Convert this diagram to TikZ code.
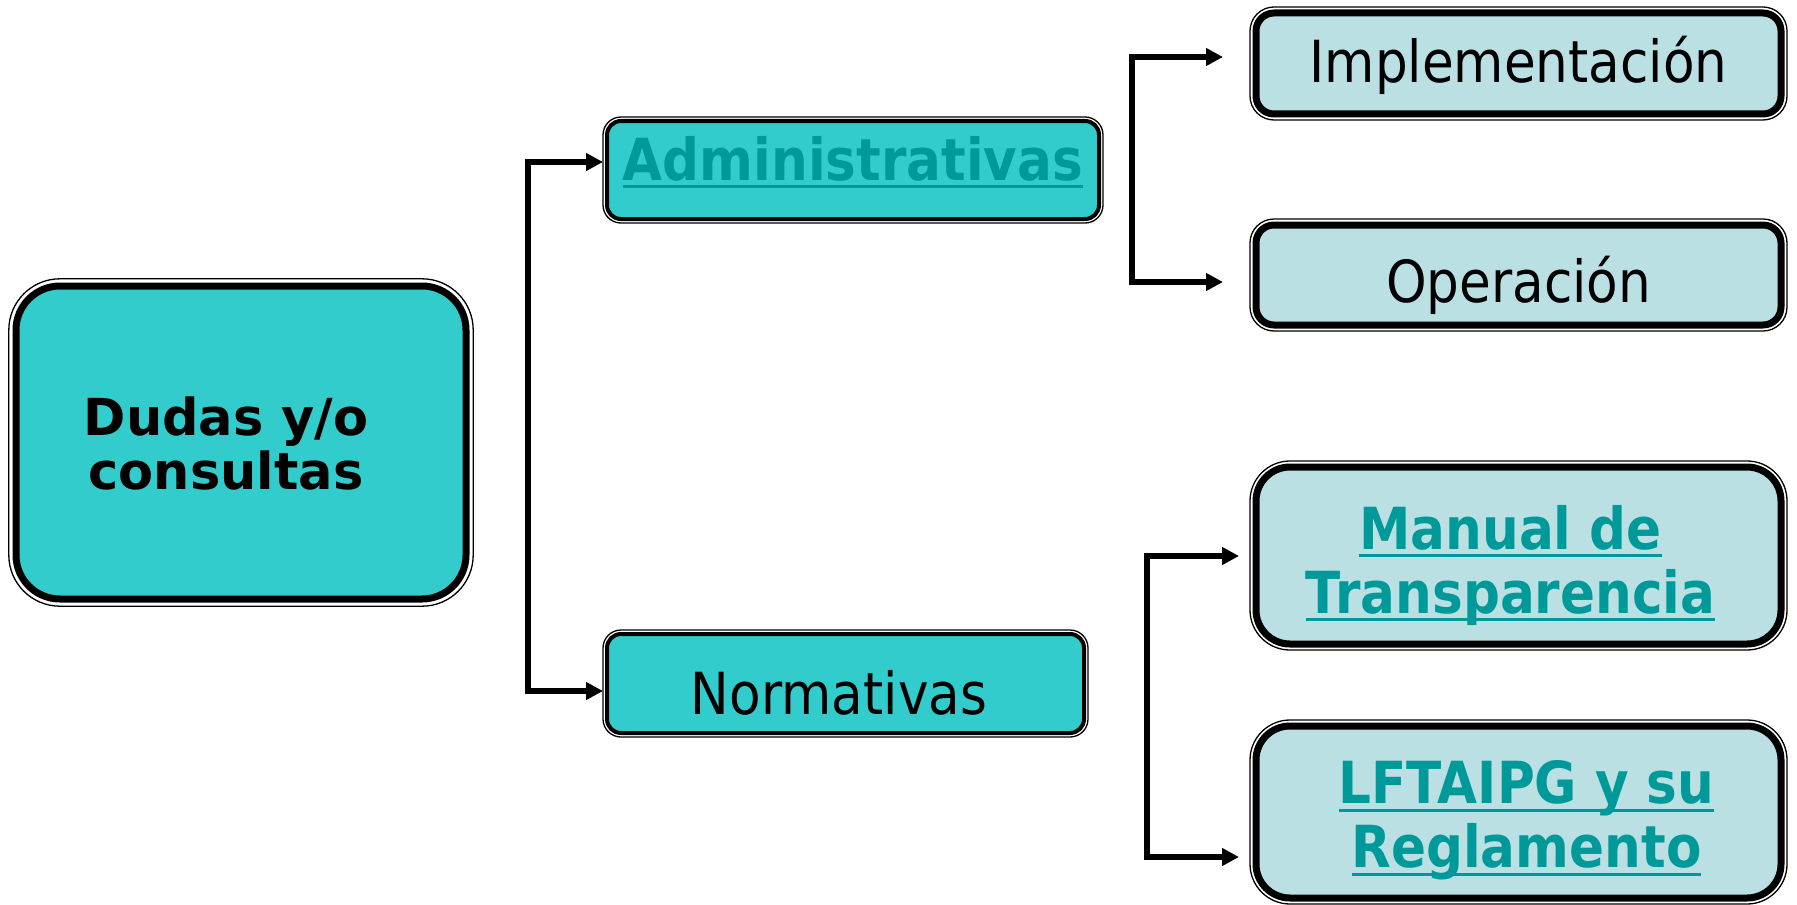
\documentclass[tikz,border=0pt]{standalone}
\usepackage{fontspec}
\setmainfont{DejaVu Sans}
\newfontfamily\narrowsans[FakeStretch=0.89]{DejaVu Sans}
\usepackage{xcolor}
\usetikzlibrary{arrows.meta}
\usetikzlibrary{calc}
\definecolor{boxdark}{HTML}{33CCCC}
\definecolor{boxlight}{HTML}{BAE0E3}
\definecolor{linkteal}{HTML}{009999}
\newcommand{\linkline}[1]{\setbox0\hbox{#1}\rlap{\vrule height -2.5pt depth 4.2pt width \wd0}\box0}

\begin{document}
\begin{tikzpicture}[
			     x=0.5pt, y=-0.5pt,
			     >={Triangle[length=8.5pt,width=8.5pt]},
			     box/.style={draw=black, rectangle, inner sep=0pt, outer sep=0pt, align=center},
			     bigbox/.style={box, fill=boxdark, line width=3.5pt, rounded corners=22pt},
			     midbox/.style={box, fill=boxdark, line width=2pt, rounded corners=7pt},
			     sidebox/.style={box, fill=boxlight, line width=3.5pt, rounded corners=9pt},
			     tallbox/.style={sidebox, rounded corners=17pt},
			     lift/.style={text height=#1, text depth=0pt},
			     linktext/.style={text=linkteal, font=\narrowsans\bfseries\fontsize{29}{32}\selectfont},
			     plaintext/.style={text=black, font=\narrowsans\fontsize{29}{32}\selectfont},
			     frame/.style={draw=black, line width=0.65pt},
			     conn/.style={<->, draw=black, line width=2.8pt}
			     ]
\useasboundingbox (0,0) rectangle (1797,904);

\node[bigbox, lift=46.5pt, minimum width=225pt, minimum height=156.5pt,
      font=\bfseries\fontsize{25.5}{27}\selectfont] (dudas) at (241,442.5) {Dudas y/o\hspace*{15pt}\\consultas\hspace*{15pt}};

\node[midbox, linktext, lift=10pt, minimum width=246pt, minimum height=49pt] (admin) at (853,170) {\linkline{Administrativas}};
\node[midbox, plaintext, lift=30.5pt, minimum width=238.5pt, minimum height=49.5pt] (norm) at (845.5,683.5) {Normativas\hspace*{6.5pt}};

\node[sidebox, plaintext, lift=19pt, minimum width=262.5pt, minimum height=50.5pt] (impl) at (1518.5,63.5) {Implementación};
\node[sidebox, plaintext, lift=27.5pt, minimum width=262.5pt, minimum height=50pt] (oper) at (1518.5,275) {Operación};
\node[tallbox, linktext, lift=57.5pt, minimum width=262.5pt, minimum height=88.5pt] (manual) at (1518.5,555.5) {\linkline{Manual de}\hspace*{8pt}\\\linkline{Transparencia}\hspace*{8pt}};
\node[tallbox, linktext, lift=55.5pt, minimum width=262.5pt, minimum height=86pt] (lft) at (1518.5,812) {\hspace*{8pt}\linkline{LFTAIPG y su}\\\hspace*{8pt}\linkline{Reglamento}};

% thin outer lines
\foreach \n/\o/\r in {dudas/3.6pt/25.6pt, admin/2pt/9pt, norm/2pt/9pt, impl/3pt/12pt,
                      oper/3pt/12pt, manual/3pt/20pt, lft/3pt/20pt}
  \draw[frame, rounded corners=\r] ($(\n.north west)+(-\o,\o)$) rectangle ($(\n.south east)+(\o,-\o)$);

\coordinate (a1) at (528,162);
\coordinate (a2) at (528,691);
\coordinate (b1) at (1132,57);
\coordinate (b2) at (1132,282);
\coordinate (c1) at (1147,556);
\coordinate (c2) at (1147,857);

\draw[conn, shorten <=2pt, shorten >=2pt] (a1 -| admin.west) -- (a1) -- (a2) -- (a2 -| norm.west);
\draw[conn, shorten <=16.5pt, shorten >=16.5pt] (b1 -| impl.west) -- (b1) -- (b2) -- (b2 -| oper.west);
\draw[conn, shorten <=8.5pt, shorten >=8.5pt] (c1 -| manual.west) -- (c1) -- (c2) -- (c2 -| lft.west);
\end{tikzpicture}
\end{document}
